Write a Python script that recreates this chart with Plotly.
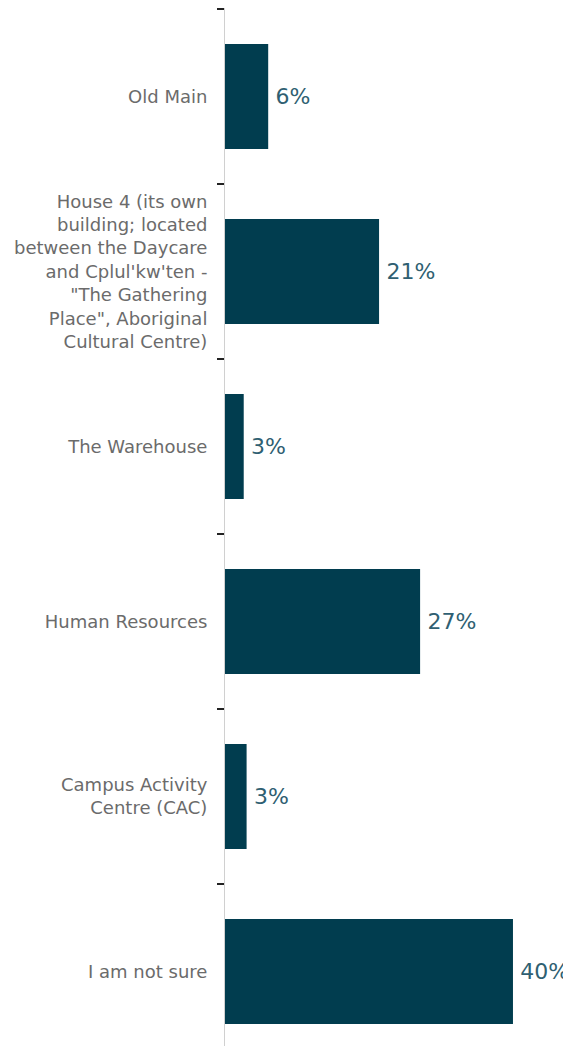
import plotly.graph_objects as go

CATEGORIES = [
    'Old Main',
    'House 4 (its own<br>building; located<br>between the Daycare<br>and Cplul\'kw\'ten -<br>"The Gathering<br>Place", Aboriginal<br>Cultural Centre)',
    'The Warehouse',
    'Human Resources',
    'Campus Activity<br>Centre (CAC)',
    'I am not sure',
]
PERCENTS = [6.0, 21.4, 2.6, 27.1, 3.0, 40.0]

BAR_COLOR = '#013d4f'
LABEL_COLOR = '#2f5f72'
FONT = 'DejaVu Sans'

# the page body has an 8px margin, so the figure is kept smaller than the window
fig = go.Figure()
fig.add_trace(go.Bar(
    y=CATEGORIES,
    x=PERCENTS,
    orientation='h',
    width=0.6,
    marker=dict(color=BAR_COLOR, line=dict(width=0)),
    texttemplate='\u2009%{x:.0f}%',
    textposition='outside',
    textfont=dict(color=LABEL_COLOR, size=22, family=FONT),
    cliponaxis=False,
))

fig.update_layout(
    width=563,
    height=1038,
    margin=dict(l=217, r=0, t=0, b=0),
    plot_bgcolor='white',
    paper_bgcolor='white',
    showlegend=False,
    font=dict(family=FONT, color='#6b6b6b', size=18),
    xaxis=dict(range=[0, 48.06], visible=False, fixedrange=True),
    yaxis=dict(
        type='category',
        range=[5.426, -0.5057],
        showline=True,
        linecolor='#d0d0d0',
        linewidth=1,
        ticks='outside',
        tickson='boundaries',
        ticklen=7,
        tickcolor='#222222',
        tickwidth=2,
        showgrid=False,
        ticklabelstandoff=13,
        tickfont=dict(size=18, color='#6b6b6b', family=FONT),
    ),
)

fig.write_html('out.html')
